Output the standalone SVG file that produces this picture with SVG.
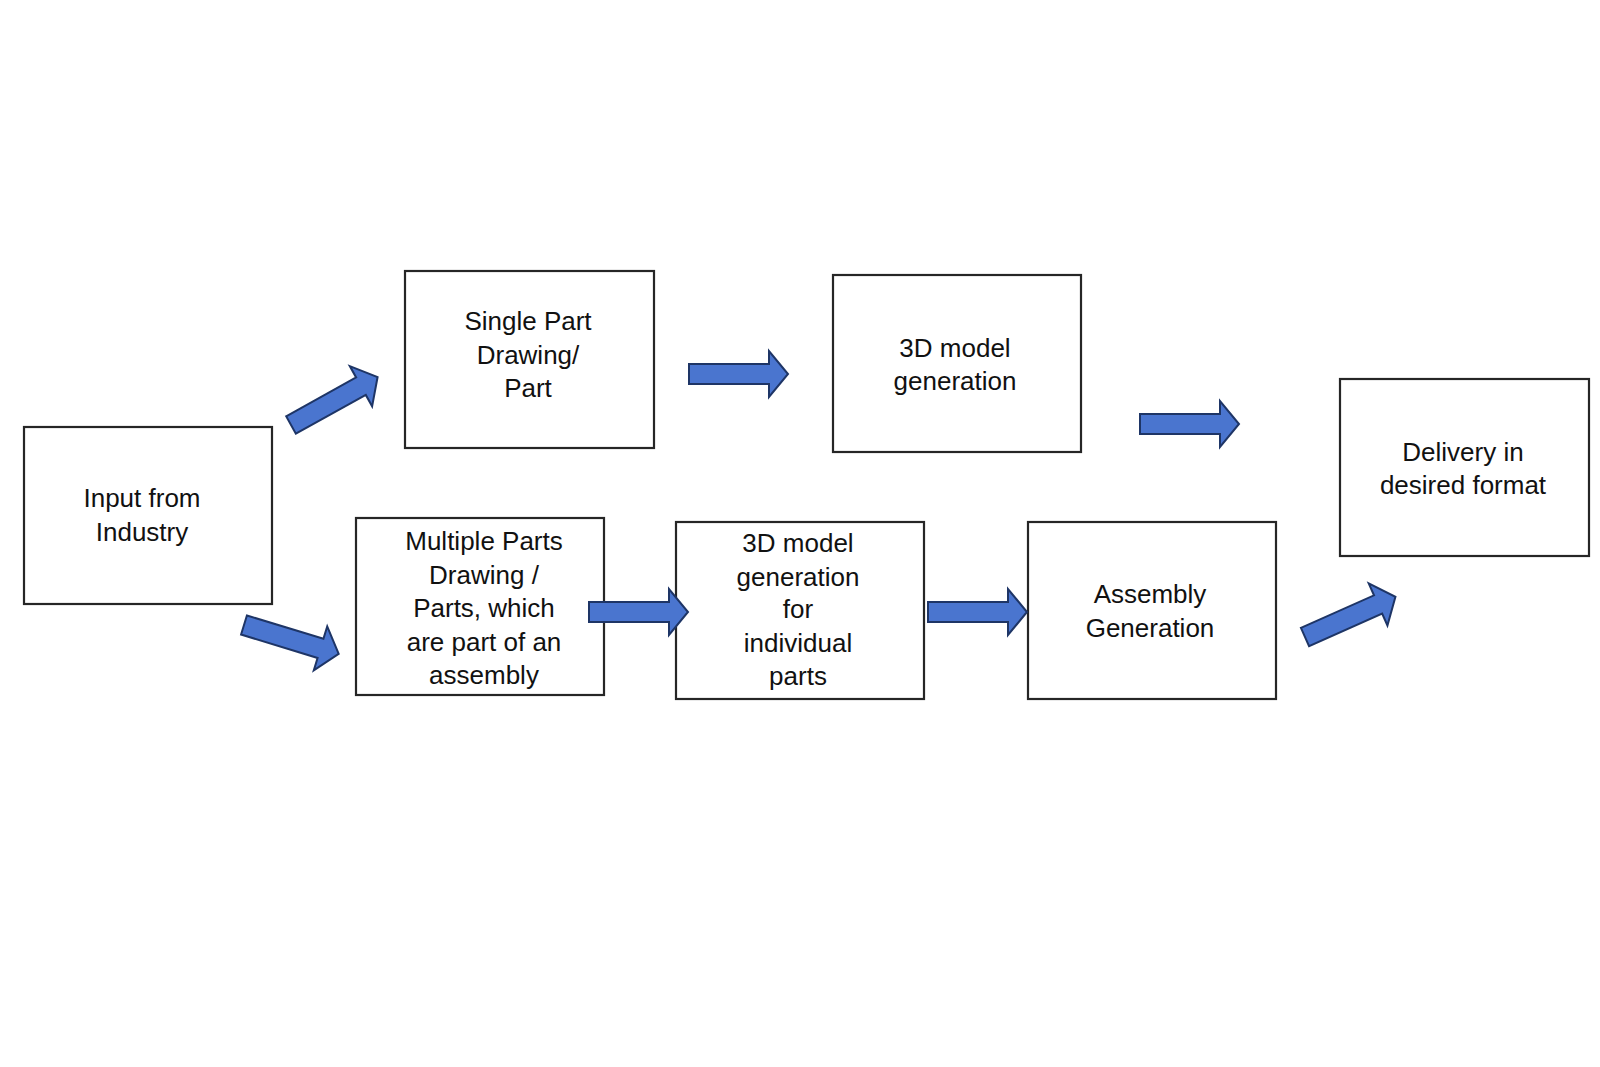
<svg xmlns="http://www.w3.org/2000/svg" xmlns:xlink="http://www.w3.org/1999/xlink" width="1600" height="1067" viewBox="0 0 1600 1067">
<style>
.box{fill:#fff;stroke:#262626;stroke-width:2.2}
.t{font-family:"Liberation Sans",Arial,sans-serif;font-size:26px;fill:#111;text-anchor:middle}
.arr{fill:#4a75cf;stroke:#1e3566;stroke-width:2;stroke-linejoin:miter}
</style>
<defs>
<path id="arrow" d="M0,-10 H80 V-23 L99,0 L80,23 V10 H0 Z"/>
</defs>
<rect width="1600" height="1067" fill="#fff"/>
<g id="n-input"><rect class="box" x="24" y="427" width="248" height="177"/>
<text class="t" x="142" y="507">Input from</text><text class="t" x="142" y="541">Industry</text></g>
<g id="n-single"><rect class="box" x="405" y="271" width="249" height="177"/>
<text class="t" x="528" y="330">Single Part</text><text class="t" x="528" y="364">Drawing/</text><text class="t" x="528" y="397">Part</text></g>
<g id="n-3d"><rect class="box" x="833" y="275" width="248" height="177"/>
<text class="t" x="955" y="357">3D model</text><text class="t" x="955" y="390">generation</text></g>
<g id="n-delivery"><rect class="box" x="1340" y="379" width="249" height="177"/>
<text class="t" x="1463" y="461">Delivery in</text><text class="t" x="1463" y="494">desired format</text></g>
<g id="n-multiple"><rect class="box" x="356" y="518" width="248" height="177"/>
<text class="t" x="484" y="550">Multiple Parts</text><text class="t" x="484" y="584">Drawing /</text><text class="t" x="484" y="617">Parts, which</text><text class="t" x="484" y="651">are part of an</text><text class="t" x="484" y="684">assembly</text></g>
<g id="n-3dparts"><rect class="box" x="676" y="522" width="248" height="177"/>
<text class="t" x="798" y="552">3D model</text><text class="t" x="798" y="586">generation</text><text class="t" x="798" y="618">for</text><text class="t" x="798" y="652">individual</text><text class="t" x="798" y="685">parts</text></g>
<g id="n-assembly"><rect class="box" x="1028" y="522" width="248" height="177"/>
<text class="t" x="1150" y="603">Assembly</text><text class="t" x="1150" y="637">Generation</text></g>
<g id="connectors" class="arr">
<use xlink:href="#arrow" transform="translate(291,425) rotate(-29)"/>
<use xlink:href="#arrow" transform="translate(689,374)"/>
<use xlink:href="#arrow" transform="translate(1140,424)"/>
<use xlink:href="#arrow" transform="translate(244,625) rotate(17)"/>
<use xlink:href="#arrow" transform="translate(589,612)"/>
<use xlink:href="#arrow" transform="translate(928,612)"/>
<use xlink:href="#arrow" transform="translate(1305,637) rotate(-24)"/>
</g>
</svg>
